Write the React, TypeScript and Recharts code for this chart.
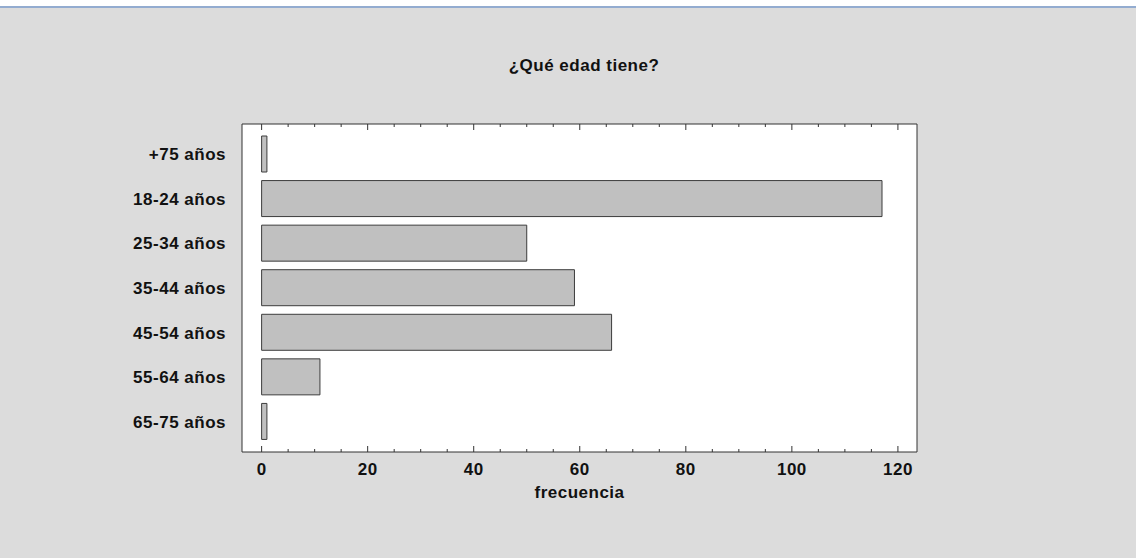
import { Bar, BarChart, CartesianGrid, Label, XAxis, YAxis } from 'recharts';

const categories = ['+75 años', '18-24 años', '25-34 años', '35-44 años', '45-54 años', '55-64 años', '65-75 años'];
const frecuencia = [1, 117, 50, 59, 66, 11, 1];
const xTicks = [0, 5, 10, 15, 20, 25, 30, 35, 40, 45, 50, 55, 60, 65, 70, 75, 80, 85, 90, 95, 100, 105, 110, 115, 120];
const majorTicks = [0, 20, 40, 60, 80, 100, 120];

const data = categories.map((name, i) => ({ name, value: frecuencia[i] }));

const FONT = 'Arial, "Liberation Sans", sans-serif';
const INK = '#111';
const LINE = '#333';
const FS = 17;
const LS = 0.5;

function BottomTick(props: any) {
    const { x, y, payload } = props;
    const major = majorTicks.includes(payload.value);
    return (
        <g>
            <line x1={x} x2={x} y1={y} y2={y - (major ? 6 : 3)} stroke={LINE} />
            {major && (
                <text
                    x={x}
                    y={y + 23}
                    textAnchor="middle"
                    fill={INK}
                    fontSize={FS}
                    fontWeight="bold"
                    fontFamily={FONT}
                    letterSpacing={LS}
                >
                    {payload.value}
                </text>
            )}
        </g>
    );
}

function TopTick(props: any) {
    const { x, y, payload } = props;
    const major = majorTicks.includes(payload.value);
    return <line x1={x} x2={x} y1={y} y2={y + (major ? 6 : 3)} stroke={LINE} />;
}

export default function App() {
    return (
        <div
            style={{
                position: 'relative',
                width: 1136,
                height: 558,
                background: '#dcdcdc',
                fontFamily: FONT,
                overflow: 'hidden'
            }}
        >
            <style>{'body{margin:0}'}</style>
            <div style={{ position: 'absolute', left: 0, top: 0, width: 1136, height: 6, background: '#fff' }} />
            <div style={{ position: 'absolute', left: 0, top: 6, width: 1136, height: 2, background: '#93acd0' }} />
            <div
                style={{
                    position: 'absolute',
                    left: 484,
                    top: 56,
                    width: 200,
                    textAlign: 'center',
                    fontSize: FS,
                    lineHeight: '20px',
                    fontWeight: 'bold',
                    letterSpacing: LS,
                    color: INK
                }}
            >
                ¿Qué edad tiene?
            </div>
            <BarChart
                width={1136}
                height={558}
                data={data}
                layout="vertical"
                margin={{ top: 104, right: 218, bottom: 56, left: 0 }}
                style={{ position: 'absolute', left: 0, top: 0 }}
            >
                <CartesianGrid fill="#fff" stroke="none" horizontal={false} vertical={false} />
                <XAxis
                    type="number"
                    dataKey="value"
                    domain={[-3.7, 123.6]}
                    allowDataOverflow
                    ticks={xTicks}
                    interval={0}
                    height={50}
                    tickSize={0}
                    tickMargin={0}
                    tickLine={false}
                    axisLine={{ stroke: LINE }}
                    tick={<BottomTick />}
                >
                    <Label
                        value="frecuencia"
                        position="insideBottom"
                        offset={4}
                        fill={INK}
                        fontSize={FS}
                        fontWeight="bold"
                        fontFamily={FONT}
                        letterSpacing={LS}
                    />
                </XAxis>
                <XAxis
                    xAxisId="top"
                    orientation="top"
                    type="number"
                    domain={[-3.7, 123.6]}
                    allowDataOverflow
                    ticks={xTicks}
                    interval={0}
                    height={20}
                    tickSize={0}
                    tickMargin={0}
                    tickLine={false}
                    axisLine={{ stroke: LINE }}
                    tick={<TopTick />}
                />
                <YAxis
                    type="category"
                    dataKey="name"
                    width={242}
                    padding={{ top: 8, bottom: 8 }}
                    tickSize={0}
                    tickMargin={16}
                    tickLine={false}
                    axisLine={{ stroke: LINE }}
                    interval={0}
                    tick={{ fill: INK, fontSize: FS, fontWeight: 'bold', fontFamily: FONT, letterSpacing: LS }}
                />
                <YAxis
                    yAxisId="right"
                    orientation="right"
                    type="category"
                    dataKey="name"
                    width={1}
                    tick={false}
                    tickLine={false}
                    axisLine={{ stroke: LINE }}
                />
                <Bar
                    dataKey="value"
                    barSize={36}
                    fill="#c0c0c0"
                    stroke="#3c3c3c"
                    strokeWidth={1}
                    isAnimationActive={false}
                />
            </BarChart>
        </div>
    );
}
